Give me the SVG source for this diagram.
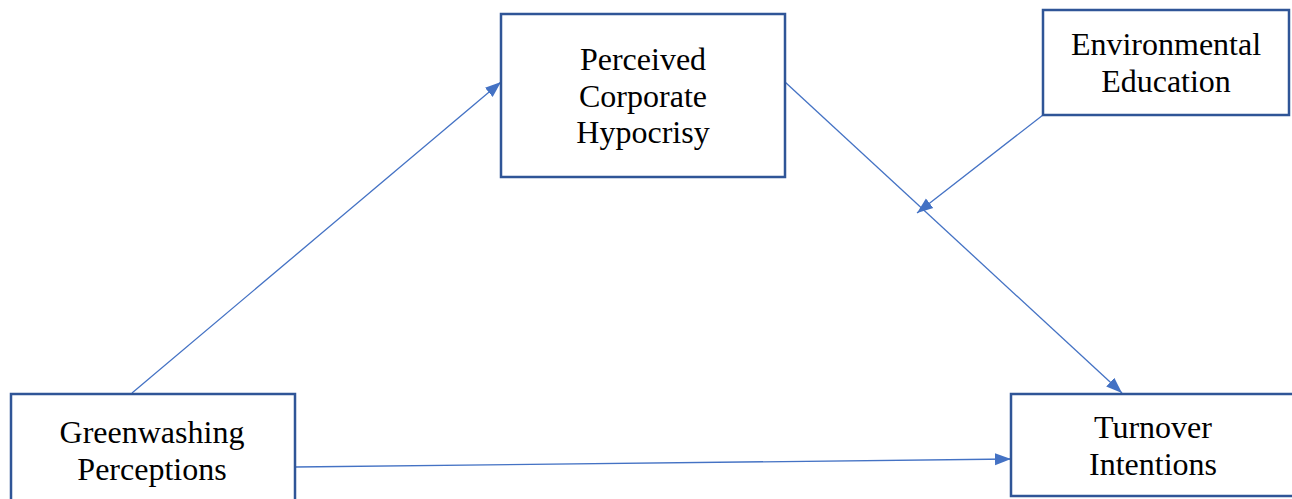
<svg xmlns="http://www.w3.org/2000/svg" width="1292" height="499" viewBox="0 0 1292 499">
<style>
.box{fill:#ffffff;stroke:#2F5597;stroke-width:2.5}
.lbl{font-family:'Liberation Serif','DejaVu Serif',serif;font-size:32px;fill:#000;text-anchor:middle}
.conn{stroke:#4472C4;stroke-width:1.3;fill:none;marker-end:url(#ah)}
</style>
<defs>
<marker id="ah" markerUnits="userSpaceOnUse" markerWidth="18" markerHeight="14" refX="16" refY="6" orient="auto" viewBox="0 0 18 12">
<path d="M0,0 L16,6 L0,12 Z" fill="#4472C4"/>
</marker>
</defs>
<rect width="1292" height="499" fill="#ffffff"/>
<g id="connectors">
<line class="conn" x1="132" y1="393" x2="501" y2="82"/>
<line class="conn" x1="785" y1="82" x2="1122" y2="393"/>
<line class="conn" x1="1043" y1="115" x2="917" y2="213"/>
<line class="conn" x1="295" y1="467" x2="1011" y2="459"/>
</g>
<g id="perceived">
<rect class="box" x="501" y="14" width="284" height="163"/>
<text class="lbl" x="643" y="70">Perceived</text>
<text class="lbl" x="643" y="107">Corporate</text>
<text class="lbl" x="643" y="143">Hypocrisy</text>
</g>
<g id="environmental">
<rect class="box" x="1043" y="10" width="246" height="105"/>
<text class="lbl" x="1166" y="55">Environmental</text>
<text class="lbl" x="1166" y="92">Education</text>
</g>
<g id="greenwashing">
<rect class="box" x="11" y="394" width="284" height="115"/>
<text class="lbl" x="152" y="443">Greenwashing</text>
<text class="lbl" x="152" y="480">Perceptions</text>
</g>
<g id="turnover">
<rect class="box" x="1011" y="394" width="295" height="102"/>
<text class="lbl" x="1153" y="438">Turnover</text>
<text class="lbl" x="1153" y="475">Intentions</text>
</g>
</svg>
